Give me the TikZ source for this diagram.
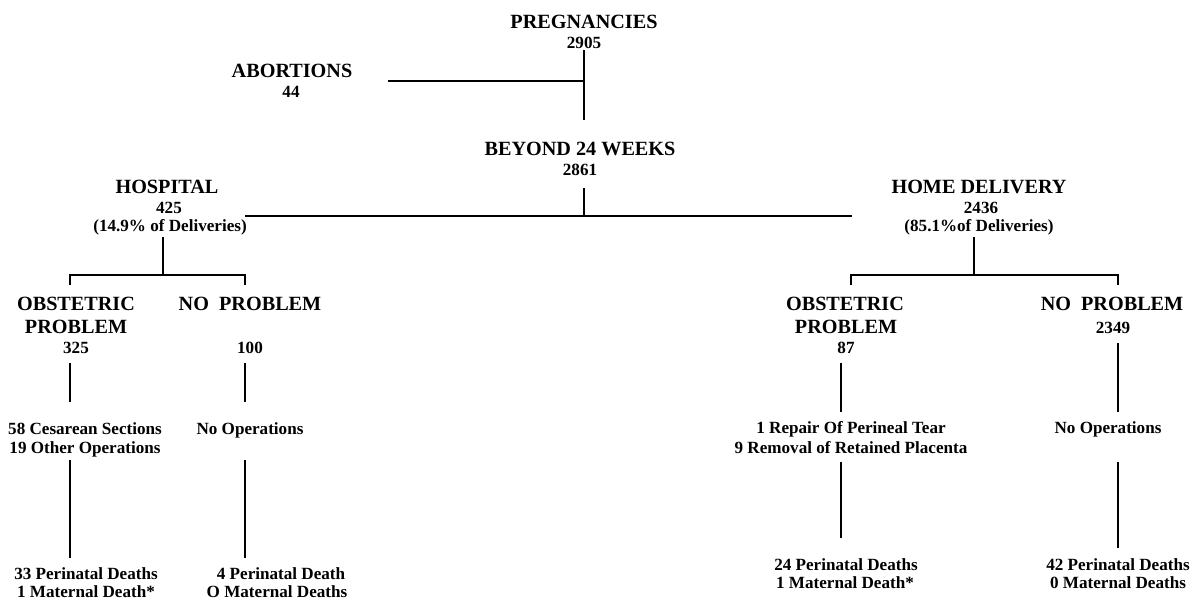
\documentclass[tikz,border=0pt]{standalone}
\usepackage{fontspec}
\setmainfont{Liberation Serif}
\begin{document}
\begin{tikzpicture}[x=1pt,y=-1pt,
  head/.style={font=\fontsize{20.2}{23}\selectfont\bfseries, anchor=base, inner sep=0pt},
  num/.style={font=\fontsize{17.1}{20}\selectfont\bfseries, anchor=base, inner sep=0pt},
  ln/.style={line width=1.3pt, line cap=butt}]
\useasboundingbox (0,0) rectangle (1198,603);
% top
\node[head] (preg) at (584,28) {PREGNANCIES};
\node[num] (pregn) at (584,48) {2905};
\node[head] (abort) at (292,77) {ABORTIONS};
\node[num] (abortn) at (291,97) {44};
\node[head] (beyond) at (580,155) {BEYOND 24 WEEKS};
\node[num] (beyondn) at (580,175) {2861};
% hospital
\node[head] (hosp) at (167,193) {HOSPITAL};
\node[num] (hospn) at (169,213) {425};
\node[num] (hospp) at (170,231) {(14.9\% of Deliveries)};
\node[head] (hobs1) at (76,310) {OBSTETRIC};
\node[head] (hobs2) at (76,333) {PROBLEM};
\node[num] (hobsn) at (76,353) {325};
\node[head] (hnop) at (250,310) {NO\ \ PROBLEM};
\node[num] (hnopn) at (250,353) {100};
\node[num] (hop1) at (85,434) {58 Cesarean Sections};
\node[num] (hop2) at (85,453) {19 Other Operations};
\node[num] (hnoop) at (250,434) {No Operations};
\node[num] (hd1) at (86,579) {33 Perinatal Deaths};
\node[num] (hd2) at (86,597) {1 Maternal Death*};
\node[num] (hnd1) at (281,579) {4 Perinatal Death};
\node[num] (hnd2) at (277,597) {O Maternal Deaths};
% home
\node[head] (home) at (979,193) {HOME DELIVERY};
\node[num] (homen) at (981,213) {2436};
\node[num] (homep) at (979,231) {(85.1\%of Deliveries)};
\node[head] (mobs1) at (845,310) {OBSTETRIC};
\node[head] (mobs2) at (846,333) {PROBLEM};
\node[num] (mobsn) at (846,353) {87};
\node[head] (mnop) at (1112,310) {NO\ \ PROBLEM};
\node[num] (mnopn) at (1113,333) {2349};
\node[num] (mop1) at (851,433) {1 Repair Of Perineal Tear};
\node[num] (mop2) at (851,453) {9 Removal of Retained Placenta};
\node[num] (mnoop) at (1108,433) {No Operations};
\node[num] (md1) at (846,570) {24 Perinatal Deaths};
\node[num] (md2) at (845,588) {1 Maternal Death*};
\node[num] (mnd1) at (1118,570) {42 Perinatal Deaths};
\node[num] (mnd2) at (1118,588) {0 Maternal Deaths};
% connector coordinates
\coordinate (pA) at (584,50);
\coordinate (pB) at (584,120);
\coordinate (aJ) at (584,81);
\coordinate (aE) at (388,81);
\coordinate (bA) at (584,188);
\coordinate (bJ) at (584,216);
\coordinate (bL) at (245,216);
\coordinate (bR) at (852,216);
\coordinate (hA) at (163,237);
\coordinate (hJ) at (163,275);
\coordinate (hL) at (70,275);
\coordinate (hR) at (245,275);
\coordinate (hLd) at (70,285);
\coordinate (hRd) at (245,285);
\coordinate (mA) at (974,237);
\coordinate (mJ) at (974,275);
\coordinate (mL) at (851,275);
\coordinate (mR) at (1118,275);
\coordinate (mLd) at (851,285);
\coordinate (mRd) at (1118,285);
\coordinate (h1a) at (70,363);
\coordinate (h1b) at (70,402);
\coordinate (h2a) at (245,363);
\coordinate (h2b) at (245,402);
\coordinate (h3a) at (70,460);
\coordinate (h3b) at (70,558);
\coordinate (h4a) at (245,460);
\coordinate (h4b) at (245,558);
\coordinate (m1a) at (841,363);
\coordinate (m1b) at (841,412);
\coordinate (m2a) at (1118,343);
\coordinate (m2b) at (1118,412);
\coordinate (m3a) at (841,462);
\coordinate (m3b) at (841,538);
\coordinate (m4a) at (1118,462);
\coordinate (m4b) at (1118,548);
% connectors
\draw[ln] (pA) -- (pB);
\draw[ln] (aE) -- (aJ);
\draw[ln] (bA) -- (bJ);
\draw[ln] (bL) -- (bR);
\draw[ln] (hA) -- (hJ);
\draw[ln] (hLd) -- (hL) -- (hR) -- (hRd);
\draw[ln] (mA) -- (mJ);
\draw[ln] (mLd) -- (mL) -- (mR) -- (mRd);
\draw[ln] (h1a) -- (h1b);
\draw[ln] (h2a) -- (h2b);
\draw[ln] (h3a) -- (h3b);
\draw[ln] (h4a) -- (h4b);
\draw[ln] (m1a) -- (m1b);
\draw[ln] (m2a) -- (m2b);
\draw[ln] (m3a) -- (m3b);
\draw[ln] (m4a) -- (m4b);
\end{tikzpicture}
\end{document}
